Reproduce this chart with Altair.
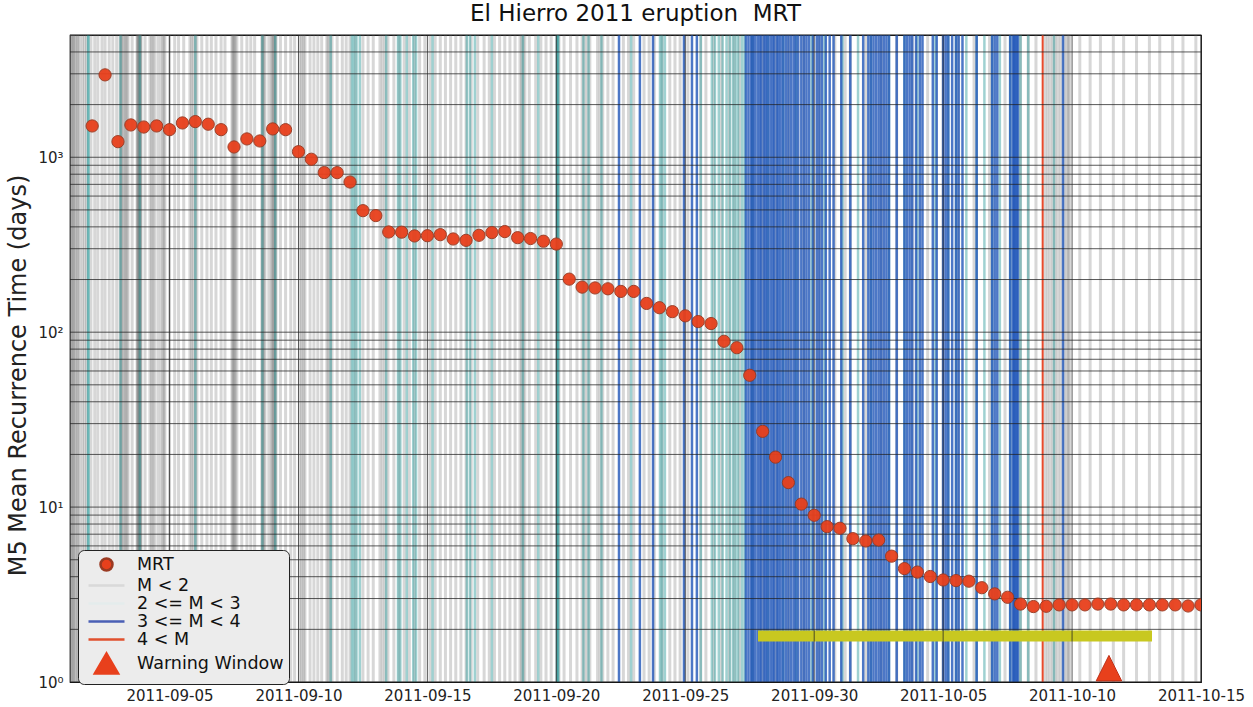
import altair as alt
import pandas as pd

# ---------------- data (time in days since 2011-09-01 00:00) ----------------
# MRT samples, every 12 h from 2011-09-02 00:00
mrt_values = [
    1510, 2958, 1228, 1530, 1489, 1510, 1438, 1571, 1599, 1545,
    1438, 1145, 1273, 1239, 1452, 1438, 1076, 974, 817, 817,
    722, 495, 464, 374, 373, 355, 356, 361, 341, 335,
    358, 371, 376, 347, 343, 331, 319, 201, 181, 179,
    177, 171, 171, 146, 138, 131, 124, 115, 112, 88.7,
    81.5, 56.7, 27.1, 19.3, 13.8, 10.4, 8.98, 7.73, 7.57, 6.60,
    6.40, 6.48, 5.24, 4.45, 4.25, 4.01, 3.83, 3.80, 3.77, 3.46,
    3.19, 3.05, 2.79, 2.70, 2.71, 2.76, 2.76, 2.76, 2.79, 2.79,
    2.76, 2.76, 2.76, 2.76, 2.76, 2.72, 2.76,
]
mrt_days = [1.0 + 0.5 * i for i in range(len(mrt_values))]

# event times by magnitude class
m_lt2_days = [
    0.16, 0.2, 0.24, 0.28, 0.3, 0.36, 0.42, 0.45, 0.52, 0.62, 0.7, 0.78, 0.95,
    1.1, 1.22, 1.38, 1.5, 1.66, 1.8, 1.95, 2.08, 2.12, 2.14, 2.2, 2.26,
    2.3, 2.35, 2.39, 2.55, 2.74, 2.76, 2.78, 2.8, 2.82, 2.84, 2.86, 2.88, 2.89,
    3.05, 3.24, 3.3, 3.36, 3.42, 3.55, 3.66, 3.74, 3.78, 3.82, 4.0, 4.2,
    4.35, 4.55, 4.79, 4.85, 4.92, 5.0, 5.06, 5.25, 5.45, 5.62,
    5.8, 6.0, 6.15, 6.42, 6.45, 6.48, 6.52, 6.55, 6.61, 6.8, 7.0,
    7.15, 7.3, 7.58, 7.6, 7.62, 7.66, 7.7, 7.85, 7.95, 7.98, 8.02, 8.05, 8.08,
    8.1, 8.13, 8.3, 8.5, 8.7, 8.85, 9.06, 9.12, 9.2, 9.25, 9.45, 9.6,
    9.75, 9.9, 10.1, 10.15, 10.22, 10.3, 10.5, 10.7, 10.85, 11.0, 11.2,
    11.5, 11.7, 11.9, 12.16, 12.25, 12.35, 12.47, 12.7, 12.9, 13.1,
    13.3, 13.5, 13.7, 13.9, 14.1, 14.3, 14.5, 14.7, 14.9, 15.1, 15.3, 15.5, 15.7,
    15.95, 16.2, 16.4, 16.6, 16.8, 17.0, 17.2, 17.4, 17.59, 17.65, 17.72, 17.78,
    17.95, 18.2, 18.4, 18.6, 18.8, 19.02, 19.1, 19.3, 19.55, 19.8, 20.0, 20.1, 20.2,
    20.3, 20.6, 20.7, 20.8, 21.0, 21.2, 21.6, 21.8, 22.0, 22.4, 22.6, 22.8, 23.1, 23.4,
    23.6, 23.8, 24.1, 24.6, 24.8, 25.1, 25.4, 25.7, 25.9, 26.1, 26.6, 27.0, 27.5, 28.0,
    28.6, 29.2, 29.8, 30.2, 30.4, 31.0, 31.6, 32.2, 32.8, 33.4, 34.0, 34.6, 35.2, 35.8,
    36.4, 37.0, 37.3, 37.6, 37.95, 38.05, 38.15, 38.25, 38.35, 38.45, 38.55, 38.7, 38.8,
    38.85, 38.9, 39.3, 39.7, 40.1, 40.6, 41.0, 41.5, 42.0, 42.4, 42.9, 43.3, 43.8,
]
m_2_3_days = [
    0.84, 0.86, 2.1, 2.85, 5.0, 7.6, 8.1, 10.25, 11.07, 11.15, 11.25, 11.38, 12.4, 12.86,
    12.95, 13.2, 13.45, 13.56, 14.2, 15.53, 15.65, 15.84, 16.5, 17.7, 18.3, 19.02, 19.05,
    19.08, 20.05, 20.25, 20.75, 21.9, 23.02, 23.1, 23.21, 24.6, 25.03, 25.15, 25.3, 25.45,
    25.6, 25.73, 25.85, 25.95, 26.05, 26.2, 26.3, 26.6, 27.2, 27.8, 28.3, 28.9, 29.4, 30.1,
    30.7, 31.2, 31.9, 32.5, 33.0, 33.7, 34.2, 34.5, 34.9, 35.3, 35.6, 35.9, 36.2, 36.6,
    37.0, 37.3, 38.3,
]
m_3_4_days = [
    21.43, 22.24, 22.75, 23.95, 24.26, 24.45,
    26.35, 26.45, 26.55, 26.62, 26.7, 26.8, 26.88, 26.95, 27.05, 27.12, 27.2, 27.3, 27.38,
    27.45, 27.55, 27.62, 27.7, 27.8, 27.9, 28.0, 28.1, 28.2, 28.28, 28.38, 28.5, 28.6,
    28.7, 28.8, 28.95, 29.1, 29.2, 29.3, 29.45, 29.6, 29.75, 30.05, 30.4, 30.9,
    31.1, 31.2, 31.3, 31.4, 31.5, 31.6, 31.7, 31.8, 31.9, 32.2, 32.5, 32.6, 32.7, 32.8,
    32.95, 33.1, 33.2, 33.6, 33.75, 34.0, 34.1, 34.2, 34.35, 34.5, 34.6, 34.75, 35.3,
    35.9, 36.0, 36.1, 36.6, 36.7, 36.75, 36.8, 36.85, 36.9, 38.65,
]
m_gt4_days = [37.86]

warning_bar = {"start": 26.82, "end": 42.1, "level": 1.83}
warning_marker = {"day": 40.43, "level": 1.2}

x_label_days = [4, 9, 14, 19, 24, 29, 34, 39, 44]
y_label_values = [1, 10, 100, 1000]
y_grid_values = [m * 10 ** e for e in range(4) for m in range(1, 10) if m * 10 ** e <= 5000]

legend_labels = ["MRT", "M < 2", "2 <= M < 3", "3 <= M < 4", "4 < M", "Warning Window"]

# ---------------- chart ----------------
FONT = "DejaVu Sans"
xscale = alt.Scale(domain=[0.14, 44], nice=False, zero=False)
yscale = alt.Scale(type="log", domain=[1, 5000], nice=False)

x_axis = alt.Axis(
    values=x_label_days,
    labelExpr="timeFormat(datetime(2011, 8, 1 + datum.value), '%Y-%m-%d')",
    grid=False, domain=False, ticks=False, labelPadding=6, labelOverlap=False,
    labelFlush=False, labelFontSize=15, labelFont=FONT, labelColor="#222", title=None,
)
y_axis = alt.Axis(
    values=y_label_values,
    labelExpr="datum.value == 1 ? '10\u2070' : datum.value == 10 ? '10\u00b9' : datum.value == 100 ? '10\u00b2' : '10\u00b3'",
    grid=False, domain=False, ticks=False, labelPadding=7, labelOverlap=False,
    labelFlush=False, labelFontSize=15, labelFont=FONT, labelColor="#222",
    title="M5 Mean Recurrence Time (days)", titleFontSize=24, titleFont=FONT,
    titleFontWeight="normal", titleColor="#222", titlePadding=7, titleY=340,
)

def xenc(field):
    return alt.X(f"{field}:Q", scale=xscale, axis=x_axis)

def yenc(field):
    return alt.Y(f"{field}:Q", scale=yscale, axis=y_axis)

ev_lt2 = alt.Chart(pd.DataFrame({"day": m_lt2_days})).mark_rule(
    color="#7a7a7a", opacity=0.3, strokeWidth=3).encode(x=xenc("day"))
ev_23 = alt.Chart(pd.DataFrame({"day": m_2_3_days})).mark_rule(
    color="#2a9898", opacity=0.45, strokeWidth=2.5).encode(x=xenc("day"))
ev_34 = alt.Chart(pd.DataFrame({"day": m_3_4_days})).mark_rule(
    color="#1f55b8", opacity=0.8, strokeWidth=2.5).encode(x=xenc("day"))
ev_gt4 = alt.Chart(pd.DataFrame({"day": m_gt4_days})).mark_rule(
    color="#e84a2c", opacity=1, strokeWidth=2).encode(x=xenc("day"))

bar = alt.Chart(pd.DataFrame([warning_bar])).mark_rule(
    color="#c8c820", strokeWidth=11, strokeCap="butt").encode(
    x=xenc("start"), x2="end:Q", y=yenc("level"))

grid_h = alt.Chart(pd.DataFrame({"v": y_grid_values})).mark_rule(
    color="#222", opacity=0.75, strokeWidth=1).encode(y=yenc("v"))
grid_v = alt.Chart(pd.DataFrame({"day": x_label_days})).mark_rule(
    color="#222", opacity=0.75, strokeWidth=1).encode(x=xenc("day"))

tri = alt.Chart(pd.DataFrame([warning_marker])).mark_point(
    shape="M-1,1L0,-1L1,1Z", filled=True, fill="#e8401c", stroke="#c03018",
    strokeWidth=1, size=650, opacity=1).encode(x=xenc("day"), y=yenc("level"))

pts = alt.Chart(pd.DataFrame({"day": mrt_days, "mrt": mrt_values})).mark_point(
    filled=True, fill="#e8401c", stroke="#9a3a22", strokeWidth=1, size=150,
    opacity=0.95, clip=True).encode(x=xenc("day"), y=yenc("mrt"))

leg_props = dict(
    title=None, orient="none", legendX=8, legendY=515, padding=5, symbolOffset=14,
    symbolSize=256, symbolStrokeWidth=2.5, symbolOpacity=1, rowPadding=0,
    labelOffset=21, labelFontSize=17.5, labelFont=FONT, labelColor="#111",
    fillColor="#ececec", strokeColor="#222", cornerRadius=6, labelLimit=300,
)
leg_dom = legend_labels
legend_layer = alt.Chart(pd.DataFrame({"series": legend_labels})).mark_point(
    opacity=0).encode(
    shape=alt.Shape("series:N", scale=alt.Scale(domain=leg_dom, range=[
        "M-0.75,0A0.75,0.75,0,1,1,0.75,0A0.75,0.75,0,1,1,-0.75,0Z",
        "M-2.25,0L2.25,0", "M-2.25,0L2.25,0", "M-2.25,0L2.25,0", "M-2.25,0L2.25,0",
        "M-1.45,1.25L0,-1.25L1.45,1.25Z"]),
        legend=alt.Legend(**leg_props)),
    fill=alt.Fill("series:N", scale=alt.Scale(domain=leg_dom, range=[
        "#e8401c", "transparent", "transparent", "transparent", "transparent", "#e8401c"]),
        legend=alt.Legend(**leg_props)),
    stroke=alt.Stroke("series:N", scale=alt.Scale(domain=leg_dom, range=[
        "#9a3a22", "#d9d9d9", "#e4ecec", "#4a5fb5", "#e0502e", "#e8401c"]),
        legend=alt.Legend(**leg_props)),
)

chart = alt.layer(
    ev_lt2, ev_23, ev_34, ev_gt4, bar, grid_h, grid_v, tri, pts, legend_layer
).properties(
    width=1131, height=647,
    title=alt.TitleParams("El Hierro 2011 eruption \u00a0MRT", fontSize=23, font=FONT,
                          fontWeight="normal", color="#111", offset=8, anchor="middle"),
    autosize=alt.AutoSizeParams(type="none"),
    padding={"left": 70, "top": 35, "right": 52, "bottom": 25},
    background="white",
).configure_view(
    stroke="#111", strokeWidth=1.2
)

chart.save("out.html", embed_options={"renderer": "svg", "actions": False})
